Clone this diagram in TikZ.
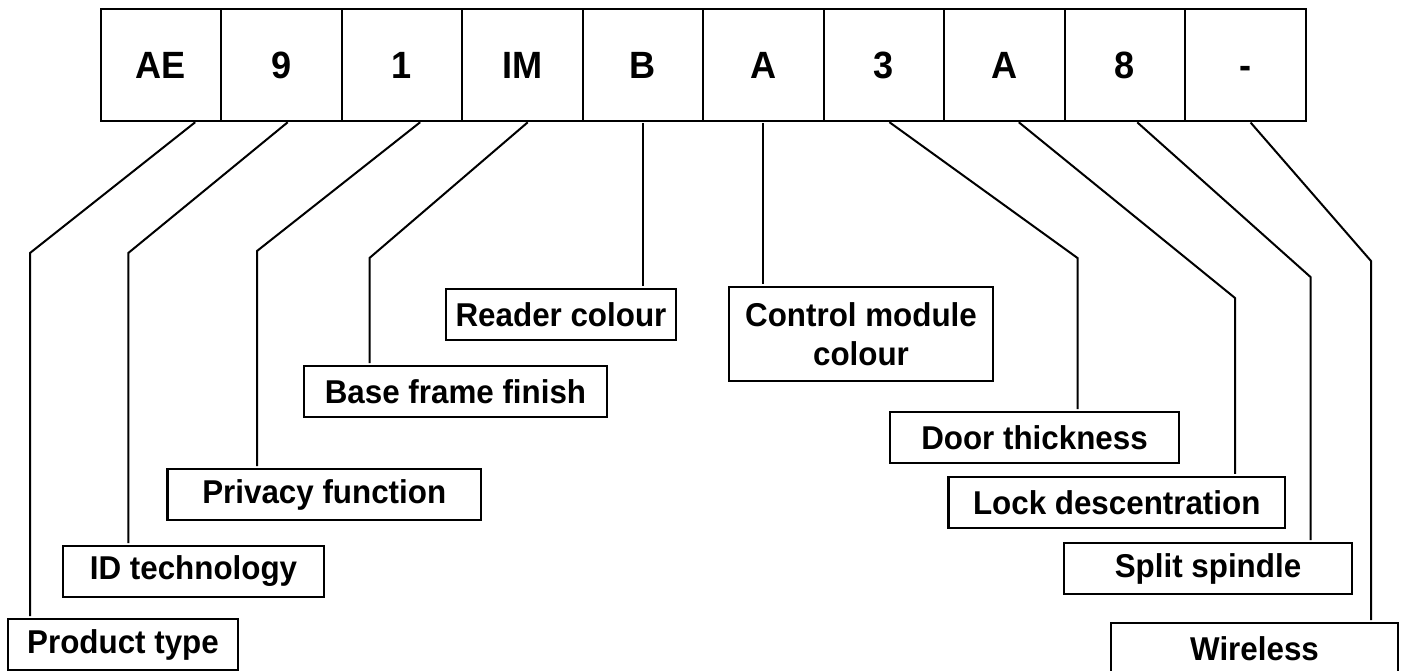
\documentclass[tikz,border=0pt]{standalone}
\usepackage{fontspec}
\setmainfont{Liberation Sans}
\newfontfamily\codefont[FakeStretch=0.95]{Liberation Sans}
\usetikzlibrary{positioning}
\tikzset{
  cell/.style={rectangle, draw, line width=2pt, outer sep=0pt, inner sep=0pt,
               minimum width=120.5pt, minimum height=112pt,
               text height=28pt, text depth=0pt,
               font=\codefont\bfseries\fontsize{38}{44}\selectfont},
  lbl/.style={rectangle, draw, line width=2.2pt, outer sep=0pt, inner sep=0pt,
              minimum height=51pt, align=center,
              font=\codefont\bfseries\fontsize{33}{39.5}\selectfont},
  lead/.style={line width=2pt, shorten <=2pt, shorten >=3pt},
}

\begin{document}
\begin{tikzpicture}[x=1pt, y=-1pt, node distance=0pt]

  \useasboundingbox (0,0) rectangle (1403,671);
  \clip (0,0) rectangle (1403,671);

  % code boxes
  \node[cell] (cAE) at (160.75,65) {AE};
  \node[cell, right=of cAE] (c9) {9};
  \node[cell, right=of c9] (c1) {1};
  \node[cell, right=of c1] (cIM) {IM};
  \node[cell, right=of cIM] (cB) {B};
  \node[cell, right=of cB] (cA) {A};
  \node[cell, right=of cA] (c3) {3};
  \node[cell, right=of c3] (cAA) {A};
  \node[cell, right=of cAA] (c8) {8};
  \node[cell, right=of c8] (cDash) {-};

  % labels
  \node[lbl, minimum width=230pt] (lProd) at (123,644.5) {Product type};
  \node[lbl, minimum width=261pt] (lId) at (193.5,571.5) {ID technology};
  \node[lbl, minimum width=313.5pt] (lPriv) at (324.25,494.5) {Privacy function};
  \node[lbl, minimum width=303pt] (lBase) at (455.5,391.5) {Base frame finish};
  \node[lbl, minimum width=230pt] (lReader) at (561,314.5) {Reader colour};
  \node[lbl, minimum width=264pt, minimum height=94pt] (lCtrl) at (861,334)
    {Control module\\colour};
  \node[lbl, minimum width=289pt] (lDoor) at (1034.5,437.5) {Door thickness};
  \node[lbl, minimum width=336.5pt] (lLock) at (1116.75,502.25) {Lock descentration};
  \node[lbl, minimum width=288pt] (lSplit) at (1208,568.5) {Split spindle};
  \node[lbl, minimum width=287pt] (lWire) at (1254.5,648.5) {Wireless};

  % bends
  \coordinate (kAE) at (30,253);
  \coordinate (k9) at (128.3,253);
  \coordinate (k1) at (257,251);
  \coordinate (kIM) at (369.5,258);
  \coordinate (k3) at (1077.5,258);
  \coordinate (kAA) at (1235,298);
  \coordinate (k8) at (1310.5,277);
  \coordinate (kDash) at (1371,261);

  % leaders
  \draw[lead] ([xshift=36pt]cAE.south) -- (kAE) -- (kAE |- lProd.north);
  \draw[lead] ([xshift=8pt]c9.south) -- (k9) -- (k9 |- lId.north);
  \draw[lead] ([xshift=20pt]c1.south) -- (k1) -- (k1 |- lPriv.north);
  \draw[lead] ([xshift=7pt]cIM.south) -- (kIM) -- (kIM |- lBase.north);
  \draw[lead] (cB.south) -- (cB.south |- lReader.north);
  \draw[lead] (cA.south) -- (cA.south |- lCtrl.north);
  \draw[lead] ([xshift=4pt]c3.south) -- (k3) -- (k3 |- lDoor.north);
  \draw[lead] ([xshift=13pt]cAA.south) -- (kAA) -- (kAA |- lLock.north);
  \draw[lead] ([xshift=11pt]c8.south) -- (k8) -- (k8 |- lSplit.north);
  \draw[lead] ([xshift=4pt]cDash.south) -- (kDash) -- (kDash |- lWire.north);

\end{tikzpicture}
\end{document}
